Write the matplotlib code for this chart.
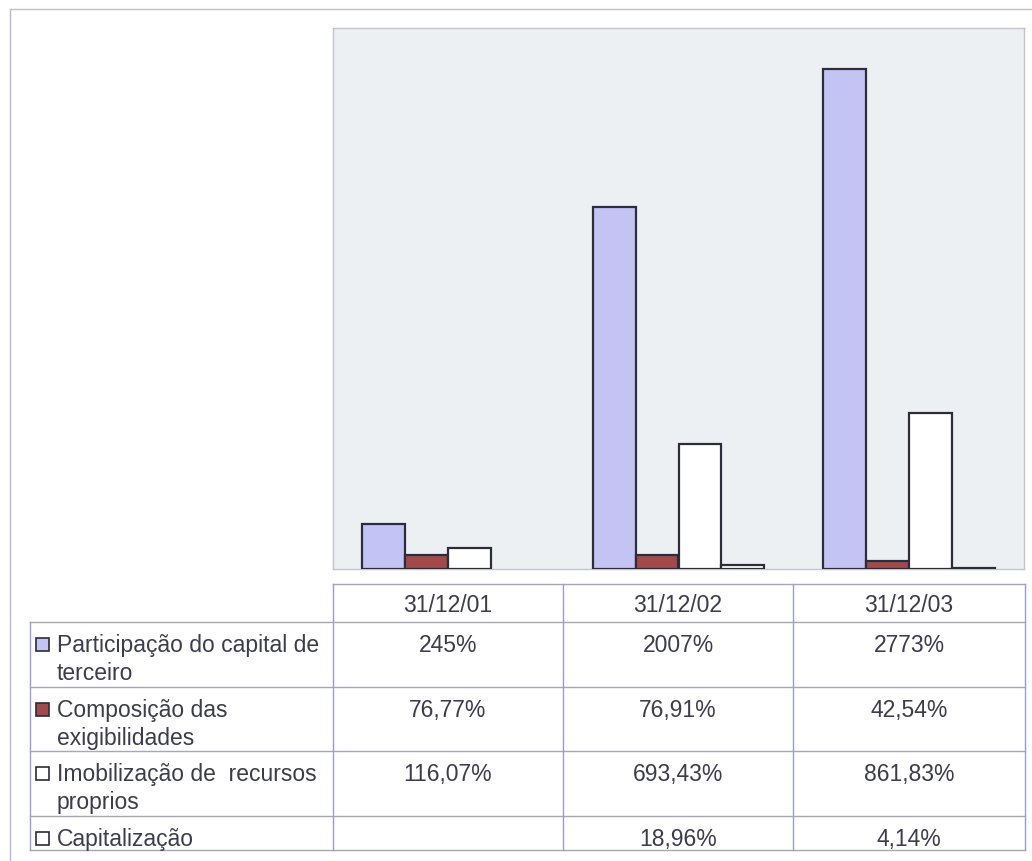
import numpy as np
import matplotlib
matplotlib.use("Agg")
import matplotlib.pyplot as plt
from matplotlib.patches import Rectangle

# Data
dates = ["31/12/01", "31/12/02", "31/12/03"]
series_names = [
    "Participação do capital de terceiro",
    "Composição das exigibilidades",
    "Imobilização de recursos proprios",
    "Capitalização",
]
participacao = [245.0, 2007.0, 2773.0]
composicao = [76.77, 76.91, 42.54]
imobilizacao = [116.07, 693.43, 861.83]
capitalizacao = [np.nan, 18.96, 4.14]

participacao_txt = ["245%", "2007%", "2773%"]
composicao_txt = ["76,77%", "76,91%", "42,54%"]
imobilizacao_txt = ["116,07%", "693,43%", "861,83%"]
capitalizacao_txt = ["", "18,96%", "4,14%"]

label_lines = [
    ["Participação do capital de", "terceiro"],
    ["Composição das", "exigibilidades"],
    ["Imobilização de  recursos", "proprios"],
    ["Capitalização"],
]

colors = ["#c3c4f4", "#a24a4a", "#ffffff", "#ffffff"]
edge = "#2c2c3a"
text_color = "#3c3c4c"
vgrid_color = "#9c9cd0"
hgrid_color = "#a8a8b4"

plt.rcParams["font.family"] = ["Liberation Sans", "DejaVu Sans"]

W, H = 1032, 862
fig = plt.figure(figsize=(W / 100, H / 100), dpi=100)
fig.patch.set_facecolor("white")

# Chart axes (pixel box: x 333..1024, y 29..569.5)
x0, x1, y0, y1 = 333, 1024, 29, 569.5
ax = fig.add_axes([x0 / W, 1 - y1 / H, (x1 - x0) / W, (y1 - y0) / H])
ax.set_facecolor("#edf0f3")
for s in ax.spines.values():
    s.set_color("#c4c4cc")
    s.set_linewidth(1)
ax.set_xlim(-0.5, 2.5)
ax.set_ylim(0, 3000)
ax.set_xticks([])
ax.set_yticks([])

x = np.arange(len(dates))
w = 0.186
all_series = [participacao, composicao, imobilizacao, capitalizacao]
for i, vals in enumerate(all_series):
    ax.bar(x + (i - 1.5) * w, vals, width=w, color=colors[i],
           edgecolor=edge, linewidth=1.6, zorder=3)

# Overlay in pixel coordinates for frame and data table
ov = fig.add_axes([0, 0, 1, 1], zorder=5)
ov.set_xlim(0, W)
ov.set_ylim(H, 0)
ov.axis("off")
ov.patch.set_alpha(0)

# outer frame (left and top edges)
ov.plot([10, 10], [H, 10], color="#b8b8cc", lw=1)
ov.plot([10, W], [10, 10], color="#c0c0c8", lw=1)

col_edges = [333, 563, 793, 1025]
row_edges = [623, 688, 752, 817, 851]
label_left = 30
header_top = 585

# table grid
ov.plot([col_edges[0], col_edges[-1]], [header_top, header_top], color=hgrid_color, lw=1)
for yy in row_edges:
    ov.plot([label_left, col_edges[-1]], [yy, yy], color=hgrid_color, lw=1)
for xx in col_edges:
    ov.plot([xx, xx], [header_top, row_edges[-1]], color=vgrid_color, lw=1)
ov.plot([label_left, label_left], [row_edges[0], row_edges[-1]], color=vgrid_color, lw=1)

fs = 16.5
for j, d in enumerate(dates):
    cx = (col_edges[j] + col_edges[j + 1]) / 2
    ov.text(cx, 612, d, ha="center", va="baseline", fontsize=fs, color=text_color)

value_rows = [participacao_txt, composicao_txt, imobilizacao_txt, capitalizacao_txt]
for r in range(4):
    top = row_edges[r]
    base = top + 29
    for j, t in enumerate(value_rows[r]):
        cx = (col_edges[j] + col_edges[j + 1]) / 2
        ov.text(cx, base, t, ha="center", va="baseline", fontsize=fs, color=text_color)
    # legend key
    ov.add_patch(Rectangle((36, base - 13), 13, 13, facecolor=colors[r],
                           edgecolor=edge, lw=1.2))
    for k, line in enumerate(label_lines[r]):
        ov.text(57, base + k * 28, line, ha="left", va="baseline",
                fontsize=fs, color=text_color)

fig.savefig("out.png", dpi=100)
